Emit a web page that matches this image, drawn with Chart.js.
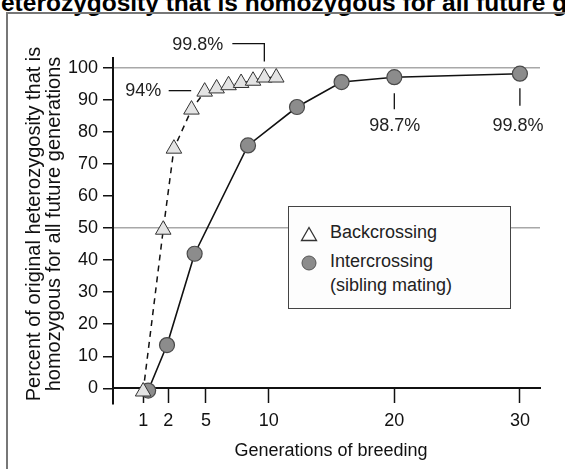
<!DOCTYPE html>
<html>
<head>
<meta charset="utf-8">
<script src="https://cdn.jsdelivr.net/npm/chart.js"></script>
<style>
    body { margin: 0; background: #fff; font-family: 'Liberation Sans', Arial, sans-serif; }
    .wrap { position: relative; width: 565px; height: 469px; overflow: hidden; }
    .top-title { position: absolute; left: -14px; top: -10px; white-space: nowrap; font-weight: bold; font-size: 24.5px; line-height: 25px; color: #000; }
    .frame { position: absolute; left: 6px; top: 12px; width: 600px; height: 500px; border-top: 2px solid #777; border-left: 2px solid #777; }
    #chart { position: absolute; left: 0; top: 0; }
    .legend { position: absolute; left: 288px; top: 206px; width: 221px; height: 101px; border: 1.5px solid #444; background: #fdfdfd; font-size: 18px; color: #222; }
    .legend span { position: absolute; left: 41px; white-space: nowrap; line-height: 20px; }
    .legend svg { position: absolute; }
</style>
</head>
<body>
<div class="wrap">
    <div class="top-title">heterozygosity that is homozygous for all future generations</div>
    <div class="frame"></div>
    <canvas id="chart" width="565" height="469"></canvas>
    <div class="legend">
        <svg style="left:11px;top:19px" width="18" height="16"><polygon points="9,1.5 16.5,14.5 1.5,14.5" fill="#fff" stroke="#333" stroke-width="1.3"/></svg>
        <span style="top:15px">Backcrossing</span>
        <svg style="left:12px;top:48px" width="16" height="16"><circle cx="8" cy="8" r="7" fill="#8c8c8c" stroke="#555" stroke-width="1"/></svg>
        <span style="top:44px">Intercrossing</span>
        <span style="top:68px">(sibling mating)</span>
    </div>
</div>
<script>
/**
 * Data
 */

var genTicks = [0, 2, 5, 10, 20, 30];
var genTickLabels = ['1', '2', '5', '10', '20', '30'];
var percentTicks = [0, 10, 20, 30, 40, 50, 60, 70, 80, 90, 100];

var backcrossGen = [0, 1.6, 2.45, 3.85, 4.9, 5.85, 6.8, 7.8, 8.75, 9.65, 10.6];
var backcrossPct = [-1, 49.5, 74.8, 87, 92.6, 93.6, 94.6, 95.3, 96, 97, 97];

var intercrossGen = [0.4, 1.9, 4.1, 8.35, 12.25, 15.8, 20, 30];
var intercrossPct = [-0.7, 13.5, 42, 75.8, 87.8, 95.6, 97.1, 98.2];

var fontFamily = "'Liberation Sans', Arial, sans-serif";

/**
 * Callout labels with leader lines, hung off data points
 */

var callouts = [
    { set: 0, index: 9, text: '99.8%', path: [[0, -16], [0, -34], [-32, -34]], tx: -41, ty: -33, align: 'right' },
    { set: 0, index: 4, text: '94%', path: [[-13.5, -1], [-36, -1]], tx: -43.5, ty: -1, align: 'right' },
    { set: 1, index: 6, text: '98.7%', path: [[0, 16], [0, 32]], tx: 0.5, ty: 49, align: 'center' },
    { set: 1, index: 7, text: '99.8%', path: [[0, 14.5], [0, 32]], tx: -2, ty: 52.5, align: 'center' }
];

var calloutPlugin = {
    id: 'callouts',
    afterDatasetsDraw: function(chart) {
        var ctx = chart.ctx;
        var xs = chart.scales.x;
        var ys = chart.scales.y;
        ctx.save();
        ctx.strokeStyle = '#111';
        ctx.lineWidth = 1.3;
        ctx.fillStyle = '#222';
        ctx.font = '18px ' + fontFamily;
        ctx.textBaseline = 'middle';
        for (var i = 0; i < callouts.length; i++) {
            var c = callouts[i];
            var gens = c.set == 0 ? backcrossGen : intercrossGen;
            var pcts = c.set == 0 ? backcrossPct : intercrossPct;
            var px = xs.getPixelForValue(gens[c.index]);
            var py = ys.getPixelForValue(pcts[c.index]);
            ctx.beginPath();
            for (var j = 0; j < c.path.length; j++) {
                var p = c.path[j];
                if (j == 0) ctx.moveTo(px + p[0], py + p[1]);
                else ctx.lineTo(px + p[0], py + p[1]);
            }
            ctx.stroke();
            ctx.textAlign = c.align;
            ctx.fillText(c.text, px + c.tx, py + c.ty);
        }
        ctx.restore();
    }
};

/**
 * Render chart
 */

var toPoints = function(xs, ys) {
    var pts = [];
    for (var i = 0; i < xs.length; i++) {
        pts.push({ x: xs[i], y: ys[i] });
    }
    return pts;
};

var ctx = document.getElementById('chart').getContext('2d');
var chart = new Chart(ctx, {
    type: 'line',
    data: {
        datasets: [{
            label: 'Backcrossing',
            data: toPoints(backcrossGen, backcrossPct),
            borderColor: '#111',
            borderWidth: 1.5,
            borderDash: [6, 5],
            pointStyle: 'triangle',
            pointRadius: 9,
            pointBackgroundColor: '#e4e4e4',
            pointBorderColor: '#333',
            pointBorderWidth: 1,
            clip: false,
            order: 0
        }, {
            label: 'Intercrossing (sibling mating)',
            data: toPoints(intercrossGen, intercrossPct),
            borderColor: '#111',
            borderWidth: 1.6,
            pointStyle: 'circle',
            pointRadius: 7.5,
            pointBackgroundColor: '#8c8c8c',
            pointBorderColor: '#4a4a4a',
            pointBorderWidth: 1.2,
            clip: false,
            order: 1
        }]
    },
    options: {
        responsive: false,
        animation: false,
        devicePixelRatio: 1,
        layout: { padding: { left: 0, top: 58, right: 25, bottom: 65 } },
        plugins: {
            legend: { display: false },
            tooltip: { enabled: false }
        },
        scales: {
            x: {
                type: 'linear',
                position: { y: 0 },
                min: -2.4,
                max: 31.6,
                afterBuildTicks: function(scale) {
                    scale.ticks = genTicks.map(function(v) { return { value: v }; });
                },
                ticks: {
                    autoSkip: false,
                    maxRotation: 0,
                    padding: 10,
                    color: '#111',
                    font: { family: fontFamily, size: 18, lineHeight: 1.0 },
                    callback: function(value, index) { return genTickLabels[index]; }
                },
                grid: { drawOnChartArea: false, tickLength: 14, tickColor: '#111', tickWidth: 1.5 },
                border: { color: '#111', width: 2 },
                title: {
                    display: true,
                    text: '\u2002Generations of breeding',
                    color: '#111',
                    font: { family: fontFamily, size: 18 },
                    padding: { top: 0, bottom: 0 }
                }
            },
            y: {
                type: 'linear',
                position: 'left',
                min: -4.9,
                max: 103.1,
                afterBuildTicks: function(scale) {
                    scale.ticks = percentTicks.map(function(v) { return { value: v }; });
                },
                afterFit: function(scale) { scale.width = 113; },
                ticks: {
                    padding: 5,
                    color: '#111',
                    font: { family: fontFamily, size: 18 }
                },
                grid: {
                    drawOnChartArea: true,
                    color: function(c) { return (c.tick && (c.tick.value == 50 || c.tick.value == 100)) ? '#a8a8a8' : 'rgba(0,0,0,0)'; },
                    lineWidth: 1.5,
                    tickLength: 10,
                    tickColor: '#111',
                    tickWidth: 1.5
                },
                border: { color: '#111', width: 2 },
                title: {
                    display: true,
                    text: ['\u2002\u2009Percent of original heterozygosity that is', '\u2002\u2009homozygous for all future generations'],
                    color: '#111',
                    font: { family: fontFamily, size: 20, lineHeight: 1.0 },
                    padding: { top: 24, bottom: 0 }
                }
            }
        }
    },
    plugins: [calloutPlugin]
});
</script>
</body>
</html>
